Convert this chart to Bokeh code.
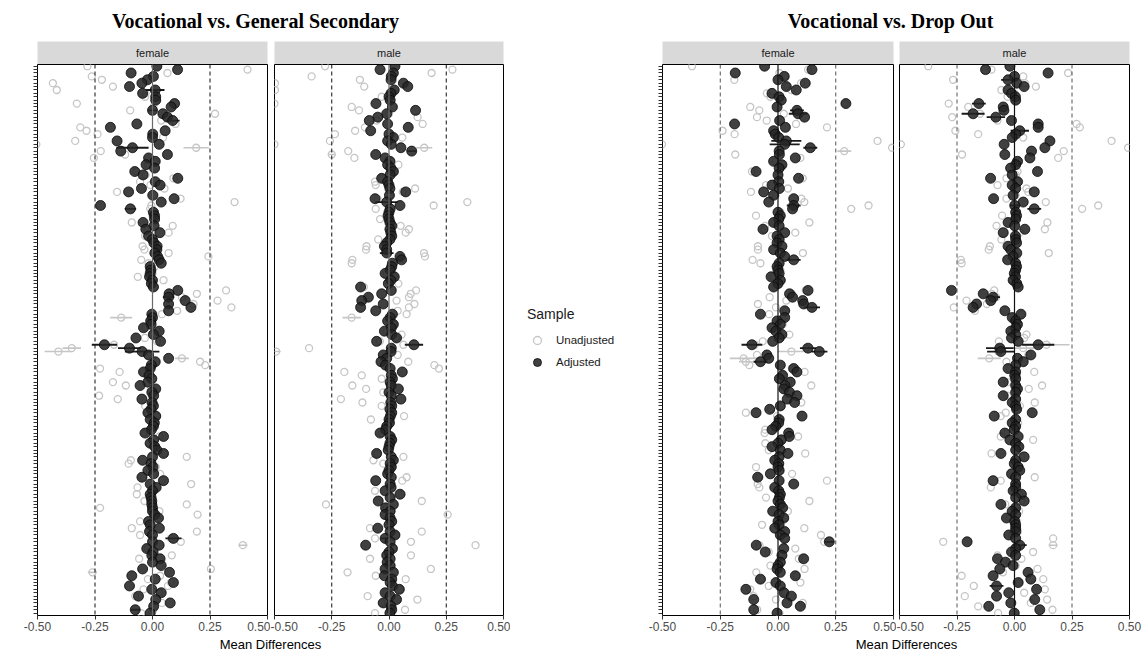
from bokeh.plotting import figure
from bokeh.models import (Range1d, FixedTicker, PrintfTickFormatter, Span,
                          ColumnDataSource, Legend, LegendItem)
from bokeh.layouts import row, column
from bokeh.core.properties import value
from bokeh.embed import file_html
from bokeh.resources import INLINE

# ---------------- data ----------------
ROWS = list(range(1, 163))
XTICKS = [-0.5, -0.25, 0.0, 0.25, 0.5]
PANEL_TITLES = ["Vocational vs. General Secondary", "Vocational vs. Drop Out"]
FACETS = ["female", "male"]
SAMPLES = ["Unadjusted", "Adjusted"]
X_LABEL = "Mean Differences"
LEGEND_TITLE = "Sample"

# Vocational vs. General Secondary, female
gs_f_adj = [
    0.019, 0.109, -0.093, 0.004, -0.022, -0.046, -0.100, 0.012, -0.043, 0.014,
    0.014, 0.096, 0.081, 0.000, 0.045, 0.065, 0.088, -0.068, -0.183, 0.055,
    0.001, 0.000, -0.154, 0.029, -0.087, -0.138, 0.065, -0.017, 0.012, -0.028,
    0.009, -0.077, -0.041, 0.110, 0.012, 0.033, -0.048, -0.104, 0.001, 0.094,
    0.038, -0.226, -0.096, 0.004, 0.009, 0.009, -0.041, 0.007, -0.029, 0.032,
    -0.017, 0.000, 0.006, 0.020, 0.019, 0.010, 0.022, 0.029, 0.038, -0.010,
    -0.007, -0.010, -0.013, 0.000, -0.005, 0.004, 0.110, 0.072, 0.070, 0.142,
    0.070, 0.167, 0.070, -0.003, 0.000, -0.008, -0.006, -0.039, 0.029, 0.004,
    -0.072, 0.035, -0.209, -0.100, -0.045, -0.017, 0.070, 0.012, -0.005, -0.010,
    -0.039, -0.015, -0.003, -0.020, -0.054, 0.014, -0.003, 0.005, -0.046, -0.002,
    0.004, -0.006, -0.020, 0.014, -0.010, 0.008, 0.004, -0.005, -0.032, 0.048,
    0.005, -0.010, 0.010, 0.019, 0.048, 0.000, -0.043, -0.006, 0.002, -0.020,
    0.005, -0.046, 0.048, -0.010, 0.016, 0.000, -0.010, -0.006, -0.003, -0.003,
    0.000, 0.000, 0.010, 0.026, -0.017, -0.010, 0.030, -0.013, 0.000, 0.091,
    0.000, 0.029, -0.025, 0.002, -0.003, 0.033, 0.000, 0.038, -0.043, 0.074,
    -0.090, 0.012, 0.091, -0.100, -0.003, 0.038, -0.061, 0.014, 0.077, 0.005,
    -0.075, -0.010]
gs_f_unadj = [
    -0.283, 0.413, 0.065, -0.264, -0.220, -0.433, -0.172, -0.416, -0.030, -0.032,
    0.020, -0.329, 0.004, -0.097, 0.272, 0.060, 0.038, 0.100, -0.314, -0.287,
    -0.239, 0.046, -0.336, -0.505, 0.190, -0.225, -0.119, -0.255, 0.010, -0.020,
    0.015, -0.070, -0.030, 0.091, -0.054, -0.009, 0.052, -0.154, 0.010, 0.122,
    0.357, -0.005, -0.010, 0.010, 0.000, 0.015, -0.090, 0.088, -0.020, 0.070,
    -0.032, 0.005, 0.010, -0.043, -0.035, 0.070, 0.243, -0.049, -0.017, 0.010,
    -0.010, 0.000, -0.064, 0.048, 0.000, 0.010, 0.320, 0.193, 0.128, 0.283,
    0.178, 0.343, 0.107, 0.041, -0.136, 0.000, -0.010, -0.030, 0.020, -0.003,
    -0.033, 0.020, -0.167, -0.351, -0.409, -0.020, 0.128, 0.207, 0.229, -0.228,
    -0.143, -0.010, 0.000, -0.172, -0.116, -0.007, 0.010, -0.232, -0.151, 0.000,
    -0.032, -0.010, -0.020, 0.020, 0.000, 0.010, 0.000, -0.010, -0.040, 0.030,
    0.010, -0.017, 0.015, 0.020, 0.052, 0.149, -0.094, -0.104, 0.014, -0.010,
    0.033, -0.040, 0.040, 0.168, -0.065, 0.005, -0.068, -0.010, -0.035, 0.149,
    -0.228, 0.030, 0.196, 0.020, -0.054, -0.005, -0.090, 0.193, -0.054, 0.080,
    0.123, 0.393, -0.020, 0.010, 0.084, -0.058, 0.005, 0.030, 0.254, -0.261,
    0.033, -0.020, 0.080, 0.067, -0.039, 0.030, -0.075, 0.010, 0.041, 0.010,
    0.004, -0.049]

# Vocational vs. General Secondary, male
gs_m_adj = [
    0.026, -0.039, 0.019, 0.010, 0.009, 0.063, 0.082, 0.023, 0.009, 0.000,
    0.005, -0.057, 0.015, 0.116, -0.010, -0.049, -0.086, -0.006, 0.084, -0.080,
    0.000, 0.019, -0.006, 0.010, 0.052, 0.099, -0.058, -0.017, 0.004, -0.006,
    0.008, 0.019, 0.005, -0.032, -0.006, 0.000, 0.004, 0.073, 0.002, -0.061,
    -0.010, 0.048, 0.005, 0.000, -0.004, 0.000, 0.004, 0.012, 0.004, 0.008,
    0.012, 0.004, -0.010, -0.020, -0.010, -0.010, 0.048, 0.055, 0.015, 0.012,
    0.005, -0.017, 0.023, 0.008, -0.003, -0.124, 0.010, -0.032, -0.090, -0.119,
    -0.025, -0.124, -0.058, 0.015, 0.005, -0.006, 0.019, 0.010, -0.020, 0.012,
    0.033, -0.054, 0.109, 0.010, 0.009, -0.025, -0.010, -0.035, -0.015, 0.005,
    0.058, 0.010, 0.015, 0.005, 0.010, 0.041, 0.000, 0.010, 0.052, 0.008,
    0.012, 0.004, 0.012, 0.006, 0.000, 0.002, -0.010, -0.015, -0.039, 0.005,
    0.012, 0.004, 0.000, -0.003, -0.054, 0.010, 0.019, 0.005, 0.010, 0.000,
    -0.006, 0.010, -0.058, 0.005, 0.009, -0.017, 0.048, 0.005, -0.047, 0.019,
    -0.015, 0.005, -0.017, 0.005, 0.012, 0.000, -0.049, 0.005, 0.026, -0.017,
    0.005, -0.102, 0.015, 0.000, -0.010, 0.005, -0.008, 0.005, -0.017, 0.019,
    -0.020, 0.012, 0.005, 0.015, 0.045, -0.017, 0.005, 0.033, -0.025, 0.009,
    0.012, 0.004]
gs_m_unadj = [
    -0.279, 0.277, 0.186, -0.338, -0.127, -0.498, -0.108, -0.498, 0.010, -0.032,
    0.010, -0.500, -0.163, -0.131, 0.000, 0.125, -0.054, 0.147, -0.105, -0.148,
    -0.236, 0.058, -0.258, -0.500, 0.154, -0.178, -0.250, -0.151, 0.010, 0.041,
    0.010, 0.025, 0.000, -0.030, -0.061, -0.058, 0.114, 0.060, 0.005, -0.050,
    0.342, 0.195, -0.058, 0.005, 0.000, -0.039, 0.010, 0.051, 0.087, 0.073,
    0.010, -0.047, -0.005, -0.098, -0.100, 0.153, 0.157, -0.160, -0.163, 0.015,
    0.010, -0.010, 0.020, 0.005, 0.041, -0.110, 0.118, 0.095, 0.087, 0.033,
    0.111, 0.087, 0.038, 0.077, -0.163, 0.000, 0.020, 0.010, -0.010, 0.055,
    0.030, -0.040, 0.063, -0.349, -0.493, 0.038, -0.015, 0.084, 0.198, 0.218,
    -0.195, -0.119, -0.032, 0.010, -0.160, -0.100, -0.025, 0.015, -0.210, -0.116,
    -0.032, 0.010, 0.015, 0.066, -0.079, 0.005, -0.005, -0.010, -0.030, 0.010,
    0.015, 0.005, 0.000, -0.010, -0.050, 0.063, -0.068, -0.025, 0.015, 0.005,
    0.000, 0.077, 0.058, 0.010, 0.015, -0.061, 0.055, 0.005, 0.143, -0.275,
    -0.010, 0.010, 0.256, 0.005, 0.015, 0.000, -0.083, 0.143, 0.030, -0.061,
    0.096, 0.378, 0.020, 0.005, 0.096, -0.083, -0.005, 0.010, 0.183, -0.181,
    -0.058, 0.073, 0.010, 0.020, 0.050, -0.010, -0.093, 0.124, -0.032, 0.010,
    0.070, -0.061]

# Vocational vs. Drop Out, female
do_f_adj = [
    -0.058, 0.147, -0.185, 0.027, 0.000, 0.118, 0.036, 0.079, -0.026, 0.005,
    0.014, 0.294, -0.004, 0.082, 0.087, 0.115, 0.007, -0.188, 0.032, -0.019,
    -0.012, 0.003, 0.036, 0.029, 0.140, 0.005, 0.006, 0.075, -0.019, 0.017,
    0.005, -0.095, 0.000, 0.089, 0.003, -0.026, 0.006, -0.062, -0.019, 0.068,
    -0.040, 0.068, 0.063, 0.000, 0.010, 0.003, -0.019, 0.005, -0.065, 0.029,
    -0.004, 0.005, -0.004, 0.017, -0.019, 0.010, 0.029, 0.068, 0.005, -0.004,
    0.000, 0.005, -0.030, 0.010, 0.000, -0.019, 0.130, 0.050, 0.063, 0.107,
    0.111, 0.147, 0.029, -0.076, 0.029, -0.004, 0.010, -0.026, -0.009, 0.017,
    0.005, -0.023, -0.113, 0.130, 0.179, -0.048, -0.040, -0.076, 0.010, 0.068,
    0.082, 0.020, 0.006, 0.053, 0.030, 0.025, 0.050, 0.082, 0.040, 0.072,
    0.010, -0.036, -0.095, 0.104, 0.005, 0.003, -0.010, -0.026, 0.046, 0.049,
    0.014, 0.000, -0.026, 0.010, 0.043, 0.005, -0.014, 0.003, 0.000, 0.005,
    -0.033, -0.088, 0.005, 0.068, -0.014, 0.003, 0.010, 0.006, 0.000, 0.010,
    0.020, -0.023, 0.005, 0.025, 0.000, 0.005, -0.014, 0.029, 0.010, 0.029,
    0.222, -0.094, 0.025, -0.055, 0.017, 0.111, 0.010, 0.000, -0.004, 0.010,
    0.075, -0.076, -0.009, 0.010, -0.139, 0.026, 0.058, -0.105, 0.039, 0.097,
    -0.105, -0.004]
do_f_unadj = [
    -0.372, 0.130, 0.006, 0.030, -0.189, 0.100, 0.040, 0.058, -0.048, -0.033,
    0.010, 0.290, -0.120, -0.081, 0.025, -0.091, -0.049, 0.078, 0.212, -0.240,
    -0.188, 0.010, 0.431, -0.502, 0.494, 0.287, -0.185, 0.097, -0.010, 0.020,
    0.010, -0.113, 0.005, 0.107, 0.010, -0.052, 0.043, -0.117, -0.010, 0.101,
    0.114, 0.392, 0.317, 0.010, -0.095, 0.010, 0.136, -0.055, -0.060, 0.075,
    -0.026, 0.010, 0.000, -0.087, -0.087, 0.108, 0.030, -0.110, -0.076, 0.005,
    0.010, 0.000, -0.020, 0.015, 0.000, -0.010, 0.120, 0.060, -0.036, 0.036,
    -0.087, -0.009, 0.035, -0.038, 0.020, 0.005, 0.020, -0.020, 0.000, 0.049,
    0.010, -0.066, -0.100, 0.120, 0.058, -0.091, -0.149, -0.139, -0.124, 0.060,
    0.115, 0.020, 0.010, 0.045, 0.144, 0.030, 0.040, 0.061, 0.050, 0.101,
    0.015, -0.030, -0.139, -0.004, 0.010, 0.005, -0.010, -0.055, -0.058, 0.087,
    0.020, -0.055, -0.020, -0.040, 0.118, 0.010, -0.010, 0.010, -0.095, 0.010,
    0.061, -0.080, 0.212, -0.088, -0.081, 0.010, 0.015, -0.052, 0.136, 0.015,
    0.025, 0.043, 0.010, 0.030, 0.005, -0.069, 0.114, 0.020, 0.186, 0.030,
    0.200, -0.080, 0.075, -0.040, 0.020, 0.090, 0.015, -0.033, 0.115, -0.094,
    0.080, -0.070, 0.097, -0.040, -0.120, 0.030, -0.105, -0.009, 0.107, 0.090,
    -0.090, 0.006]

# Vocational vs. Drop Out, male
do_m_adj = [
    -0.020, -0.126, 0.146, 0.000, -0.028, 0.010, 0.042, -0.028, -0.013, 0.004,
    0.005, -0.155, -0.049, -0.046, -0.180, -0.081, -0.013, 0.103, 0.103, 0.023,
    0.005, -0.010, 0.154, -0.045, 0.132, 0.074, -0.042, 0.067, 0.013, 0.005,
    -0.017, 0.100, -0.010, -0.104, 0.013, -0.010, 0.005, 0.086, -0.006, -0.091,
    0.038, 0.001, 0.086, 0.005, 0.009, 0.005, -0.028, 0.001, 0.045, -0.049,
    0.004, 0.005, 0.009, -0.028, -0.016, 0.010, -0.006, -0.030, 0.005, 0.009,
    0.005, -0.001, 0.004, -0.006, 0.010, 0.016, -0.274, -0.136, -0.093, -0.103,
    -0.165, -0.180, -0.042, 0.028, -0.010, 0.005, 0.013, 0.005, -0.016, 0.005,
    -0.013, 0.016, 0.103, -0.064, -0.059, 0.071, 0.013, 0.038, 0.005, -0.028,
    0.005, 0.001, 0.005, -0.049, 0.005, 0.013, 0.005, -0.049, 0.005, -0.010,
    0.005, 0.009, 0.077, -0.088, 0.005, -0.010, 0.005, -0.001, -0.042, 0.016,
    -0.020, 0.005, 0.019, 0.005, -0.059, 0.042, 0.005, -0.001, 0.016, 0.023,
    -0.013, 0.005, -0.093, 0.005, 0.005, -0.006, 0.030, 0.005, 0.042, -0.059,
    0.005, -0.010, 0.005, -0.035, 0.001, 0.005, 0.005, 0.005, -0.025, 0.005,
    -0.206, 0.023, 0.005, -0.013, 0.005, -0.074, -0.039, -0.006, -0.064, 0.059,
    -0.093, 0.071, 0.016, -0.078, 0.096, -0.025, -0.078, 0.088, -0.016, -0.112,
    0.110, -0.001]
do_m_unadj = [
    -0.375, -0.100, 0.233, 0.038, -0.267, 0.045, 0.093, -0.057, 0.000, -0.030,
    0.010, -0.286, -0.201, -0.050, -0.150, -0.271, -0.074, 0.270, 0.284, -0.257,
    -0.158, 0.038, 0.422, -0.494, 0.494, 0.214, -0.228, 0.190, 0.020, 0.010,
    -0.010, 0.013, 0.005, -0.035, 0.020, -0.074, 0.052, 0.060, 0.005, -0.035,
    0.136, 0.364, 0.294, 0.010, -0.054, 0.010, 0.143, -0.078, 0.132, 0.023,
    0.010, -0.057, 0.010, -0.107, -0.112, 0.149, 0.010, -0.233, -0.230, 0.010,
    0.005, 0.000, 0.010, -0.010, 0.015, 0.010, -0.088, -0.100, -0.080, -0.209,
    -0.120, -0.264, -0.172, 0.030, 0.000, 0.010, 0.015, 0.005, -0.010, 0.052,
    0.042, -0.068, 0.139, 0.038, -0.070, 0.060, -0.110, -0.035, 0.010, -0.020,
    0.086, 0.010, 0.010, -0.030, 0.120, 0.062, 0.010, -0.030, 0.010, 0.088,
    0.023, 0.015, -0.038, -0.060, 0.010, 0.016, 0.005, 0.005, -0.030, -0.060,
    0.081, 0.010, 0.020, 0.005, -0.100, 0.030, 0.010, 0.005, 0.020, 0.015,
    0.005, 0.088, -0.060, 0.010, -0.103, 0.005, 0.020, 0.010, 0.030, -0.040,
    0.010, 0.020, 0.010, -0.020, 0.010, 0.005, 0.010, 0.015, -0.010, 0.168,
    -0.310, 0.168, 0.010, 0.081, -0.074, 0.030, -0.020, 0.005, 0.100, -0.050,
    -0.230, 0.125, 0.020, -0.177, 0.132, 0.042, -0.216, 0.142, 0.071, -0.158,
    0.165, -0.071]

# visible error-bar half widths {row: half width}
gs_f_adj_err = {8: 0.040, 14: 0.020, 17: 0.030, 25: 0.070, 43: 0.025, 69: 0.025,
                83: 0.055, 84: 0.050, 85: 0.075, 140: 0.035, 161: 0.020}
gs_f_unadj_err = {25: 0.055, 75: 0.048, 84: 0.040, 85: 0.060, 87: 0.030,
                  142: 0.020, 150: 0.020}
gs_m_adj_err = {26: 0.020, 41: 0.050, 56: 0.030, 83: 0.040, 140: 0.020}
gs_m_unadj_err = {25: 0.035, 27: 0.015, 75: 0.040, 85: 0.020}
do_f_adj_err = {14: 0.030, 15: 0.040, 23: 0.065, 24: 0.065, 25: 0.030, 42: 0.030,
                58: 0.030, 72: 0.035, 83: 0.045, 84: 0.035, 85: 0.035, 88: 0.030,
                141: 0.020}
do_f_unadj_err = {26: 0.030, 85: 0.060, 87: 0.060, 88: 0.030}
do_m_adj_err = {5: 0.030, 12: 0.030, 15: 0.050, 16: 0.040, 20: 0.040, 42: 0.020,
                43: 0.030, 69: 0.030, 83: 0.070, 84: 0.060, 85: 0.060, 142: 0.030,
                154: 0.030}
do_m_unadj_err = {83: 0.100, 84: 0.050, 87: 0.050, 142: 0.020}

# ---------------- styling ----------------
SANS = "Liberation Sans"
SERIF = "Liberation Serif"
TOTAL_H = 657
TITLE_H = 41
STRIP_H = 23
FRAME_H = 551
AXIS_H = 22
XLAB_H = TOTAL_H - TITLE_H - STRIP_H - FRAME_H - AXIS_H
Y_RANGE = (162.7, 0.5)

UN_COLOR = "#c6c6c6"
AD_FILL = "#262626"
AD_LINE = "#0a0a0a"

LEFT_W = [270, 240]
RIGHT_W = [264, 250]
LEG_W = 1146 - sum(LEFT_W) - sum(RIGHT_W)


def err_source(vals, errs):
    rows = sorted(errs)
    return ColumnDataSource(dict(
        y=rows,
        x0=[vals[r - 1] - errs[r] for r in rows],
        x1=[vals[r - 1] + errs[r] for r in rows]))


def facet(label, unadj, adj, unadj_err, adj_err, width, bl, br, show_y,
          zero_color, dash_color):
    strip = figure(width=width, height=STRIP_H, x_range=Range1d(0, 1),
                   y_range=Range1d(0, 1), min_border_left=bl, min_border_right=br,
                   min_border_top=0, min_border_bottom=0, x_axis_location=None,
                   y_axis_location=None, toolbar_location=None,
                   output_backend="svg", background_fill_color="#d9d9d9",
                   outline_line_color=None, border_fill_color="white")
    strip.grid.visible = False
    strip.text(x=[0.5], y=[0.5], text=[label], text_align="center",
               text_baseline="middle", text_font=value(SANS),
               text_font_size="11px", text_color="#1a1a1a")

    p = figure(width=width, height=FRAME_H + AXIS_H,
               x_range=Range1d(-0.5, 0.5), y_range=Range1d(*Y_RANGE),
               min_border_left=bl, min_border_right=br, min_border_top=0,
               min_border_bottom=AXIS_H, toolbar_location=None,
               output_backend="svg", x_axis_location="below",
               y_axis_location="left" if show_y else None,
               outline_line_color="black", outline_line_width=1,
               background_fill_color="white", border_fill_color="white")
    p.grid.visible = False
    xa = p.xaxis[0]
    xa.ticker = FixedTicker(ticks=XTICKS)
    xa.formatter = PrintfTickFormatter(format="%.2f")
    xa.axis_line_color = None
    xa.major_tick_line_color = "#333333"
    xa.major_tick_out = 4
    xa.major_tick_in = 0
    xa.minor_tick_line_color = None
    xa.major_label_standoff = 2
    xa.major_label_text_font = SANS
    xa.major_label_text_font_size = "12px"
    xa.major_label_text_color = "#4d4d4d"
    if show_y:
        ya = p.yaxis[0]
        ya.ticker = FixedTicker(ticks=ROWS)
        ya.axis_line_color = None
        ya.major_tick_line_color = "#333333"
        ya.major_tick_out = 4
        ya.major_tick_in = 0
        ya.minor_tick_line_color = None
        ya.major_label_text_color = None
        ya.major_label_text_font_size = "8px"

    for loc in (-0.25, 0.25):
        p.add_layout(Span(location=loc, dimension="height", line_color=dash_color,
                          line_dash="4 3", line_width=1))
    p.add_layout(Span(location=0, dimension="height", line_color=zero_color,
                      line_width=1.2))

    su = ColumnDataSource(dict(x=unadj, y=ROWS))
    sa = ColumnDataSource(dict(x=adj, y=ROWS))
    p.segment(x0="x0", x1="x1", y0="y", y1="y", source=err_source(unadj, unadj_err),
              line_color=UN_COLOR, line_width=1.6)
    p.scatter(x="x", y="y", source=su, marker="circle", size=7,
              fill_color=None, line_color=UN_COLOR, line_width=1.3)
    p.segment(x0="x0", x1="x1", y0="y", y1="y", source=err_source(adj, adj_err),
              line_color="#1a1a1a", line_width=1.8)
    p.scatter(x="x", y="y", source=sa, marker="circle", size=10,
              fill_color=AD_FILL, fill_alpha=0.88, line_color=AD_LINE,
              line_alpha=0.8, line_width=1)
    return column(strip, p, spacing=0)


def text_fig(width, height, txt, x, y_from_top, font, size, style, color):
    f = figure(width=width, height=height, x_range=Range1d(0, width),
               y_range=Range1d(height, 0), min_border=0, x_axis_location=None,
               y_axis_location=None, toolbar_location=None, output_backend="svg",
               outline_line_color=None, background_fill_color="white",
               border_fill_color="white")
    f.grid.visible = False
    f.text(x=[x], y=[y_from_top], text=[txt], text_align="center",
           text_baseline="middle", text_font=value(font), text_font_size=size,
           text_font_style=style, text_color=color)
    return f


def panel(title, data, widths, borders, title_x, xlab_x, zero_color, dash_color):
    total_w = sum(widths)
    facets = []
    for i, (lab, (u, a, ue, ae)) in enumerate(zip(FACETS, data)):
        facets.append(facet(lab, u, a, ue, ae, widths[i], borders[i][0],
                            borders[i][1], i == 0, zero_color, dash_color))
    t = text_fig(total_w, TITLE_H, title, title_x, 20, SERIF, "20px", "bold", "black")
    xl = text_fig(total_w, XLAB_H, X_LABEL, xlab_x, 7, SANS, "13px", "normal", "black")
    return column(t, row(*facets, spacing=0), xl, spacing=0)


left = panel(PANEL_TITLES[0],
             [(gs_f_unadj, gs_f_adj, gs_f_unadj_err, gs_f_adj_err),
              (gs_m_unadj, gs_m_adj, gs_m_unadj_err, gs_m_adj_err)],
             widths=LEFT_W, borders=[(37, 3), (4, 7)],
             title_x=255, xlab_x=270, zero_color="#6a6a6a", dash_color="#111111")

right = panel(PANEL_TITLES[1],
              [(do_f_unadj, do_f_adj, do_f_unadj_err, do_f_adj_err),
               (do_m_unadj, do_m_adj, do_m_unadj_err, do_m_adj_err)],
              widths=RIGHT_W, borders=[(30, 3), (3, 17)],
              title_x=258, xlab_x=274, zero_color="#111111", dash_color="#555555")

# legend column
NAN = float("nan")
leg = figure(width=LEG_W, height=TOTAL_H, x_range=Range1d(0, 1), y_range=Range1d(0, 1),
             min_border=0, x_axis_location=None, y_axis_location=None,
             toolbar_location=None, output_backend="svg", outline_line_color=None,
             background_fill_color="white", border_fill_color="white")
leg.grid.visible = False
r_un = leg.scatter(x=[NAN], y=[NAN], marker="circle", size=6, fill_color=None,
                   line_color=UN_COLOR, line_width=1.3)
r_ad = leg.scatter(x=[NAN], y=[NAN], marker="circle", size=9, fill_color=AD_FILL,
                   fill_alpha=0.88, line_color=AD_LINE, line_alpha=0.8)
legend = Legend(items=[LegendItem(label=SAMPLES[0], renderers=[r_un]),
                       LegendItem(label=SAMPLES[1], renderers=[r_ad])],
                location=(17, 284), title=LEGEND_TITLE,
                title_text_font=SANS, title_text_font_size="14px",
                title_text_font_style="normal", title_text_color="#1a1a1a",
                title_standoff=7, label_text_font=SANS,
                label_text_font_size="11.5px", label_text_color="#1a1a1a",
                glyph_width=20, glyph_height=22, label_height=22, label_standoff=9,
                spacing=0, padding=0, margin=0, border_line_color=None,
                background_fill_alpha=0)
leg.add_layout(legend)

p = row(left, leg, right, spacing=0)
open("out.html", "w").write(file_html(p, INLINE))
